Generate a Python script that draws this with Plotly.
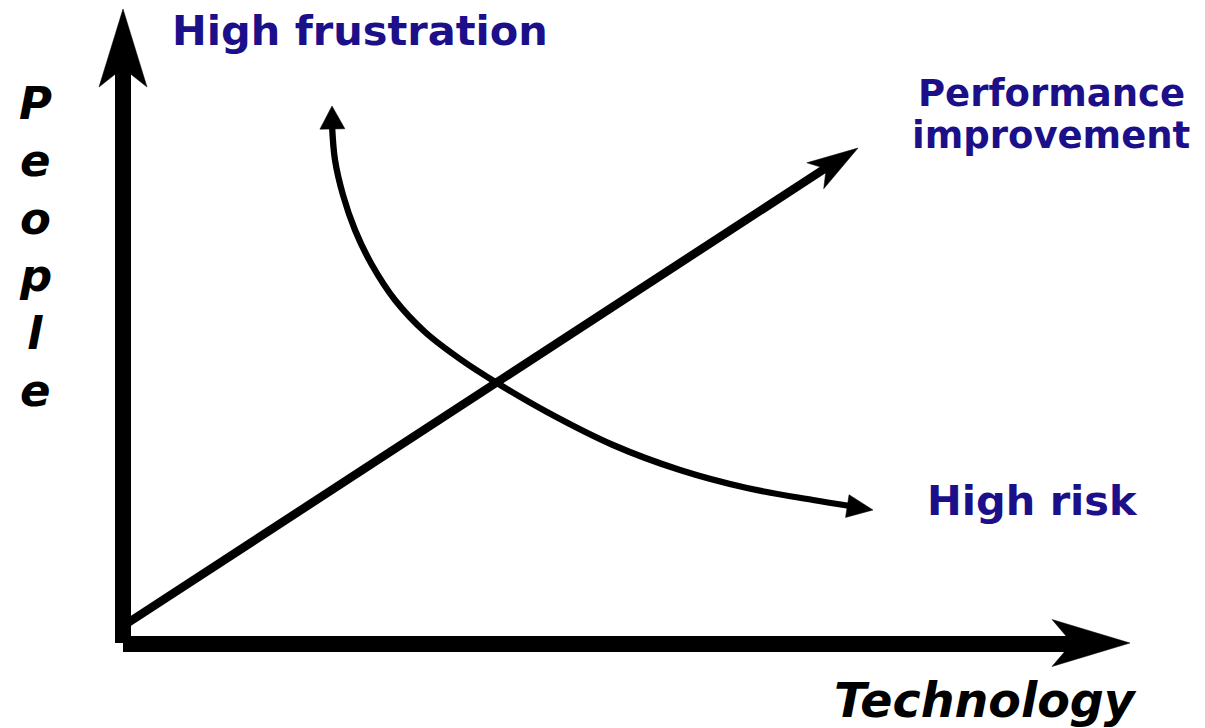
import numpy as np
import plotly.graph_objects as go

# ---- data (pixel-space diagram coordinates) ----
y_axis_x = [123, 123]
y_axis_y = [643, 68]
x_axis_x = [123, 1072]
x_axis_y = [644, 644]
perf_x = [123, 835]
perf_y = [626, 162]
curve_x = [332, 335, 343, 355, 372, 395, 425, 460, 497, 547, 613, 680, 747, 813, 850]
curve_y = [125, 160, 195, 230, 265, 300, 332, 359, 383, 412, 445, 470, 488, 500, 506]

labels = ["High frustration", "Performance", "improvement", "High risk"]
x_title = "Technology"
y_title_letters = list("People")

INK = "black"
NAVY = "#1b0f8a"
FONT = "DejaVu Sans"

fig = go.Figure()


def head(tip, toward, length, half, notch):
    tip = np.array(tip, float)
    d = tip - np.array(toward, float)
    u = d / np.linalg.norm(d)
    p = np.array([-u[1], u[0]])
    base = tip - length * u
    pts = [tip, base + half * p, tip - (length - notch) * u, base - half * p, tip]
    xs = [q[0] for q in pts]
    ys = [q[1] for q in pts]
    fig.add_trace(go.Scatter(x=xs, y=ys, mode="lines", fill="toself",
                             fillcolor=INK, line=dict(color=INK, width=0.5),
                             hoverinfo="skip", showlegend=False))


def line(xs, ys, w, shape="linear"):
    fig.add_trace(go.Scatter(x=xs, y=ys, mode="lines",
                             line=dict(color=INK, width=w, shape=shape, smoothing=1.0),
                             hoverinfo="skip", showlegend=False))


# axes
line(y_axis_x, y_axis_y, 16)
head((123, 9), (123, 100), 78, 24, 19)
line(x_axis_x, x_axis_y, 16)
head((1130, 643), (1000, 643), 78, 23.5, 20)

# performance diagonal
line(perf_x, perf_y, 8.5)
head((858, 148), (perf_x[0], perf_y[0]), 51, 15.5, 13)

# curve
line(curve_x, curve_y, 6.3, shape="spline")
head((332, 106), (332.5, 135), 23, 12.5, 0)
head((873, 510), (847, 506), 26, 11.5, 0)


def label(x, y, text, size, color, xanchor="left", italic=False):
    fig.add_annotation(x=x, y=y, text=text, xanchor=xanchor, yanchor="middle",
                       showarrow=False,
                       font=dict(family=FONT, size=size, color=color, weight="bold",
                                 style="italic" if italic else "normal"))


label(170, 30, labels[0], 41.5, NAVY)
label(1051, 93, labels[1], 37, NAVY, xanchor="center")
label(1051, 135, labels[2], 37, NAVY, xanchor="center")
label(925, 500, labels[3], 41.5, NAVY)
label(832, 700, x_title, 47.5, INK, italic=True)
for i, ch in enumerate(y_title_letters):
    label(35, 103 + i * 57.5, ch, 45, INK, xanchor="center", italic=True)

fig.update_layout(
    width=1205, height=728,
    margin=dict(l=0, r=0, t=0, b=0),
    paper_bgcolor="white", plot_bgcolor="white",
    xaxis=dict(range=[0, 1205], visible=False, fixedrange=True),
    yaxis=dict(range=[728, 0], visible=False, fixedrange=True),
    showlegend=False,
)
fig.write_html("out.html", config={"displayModeBar": False},
               post_script="document.body.style.margin='0';document.body.style.overflow='hidden';")
